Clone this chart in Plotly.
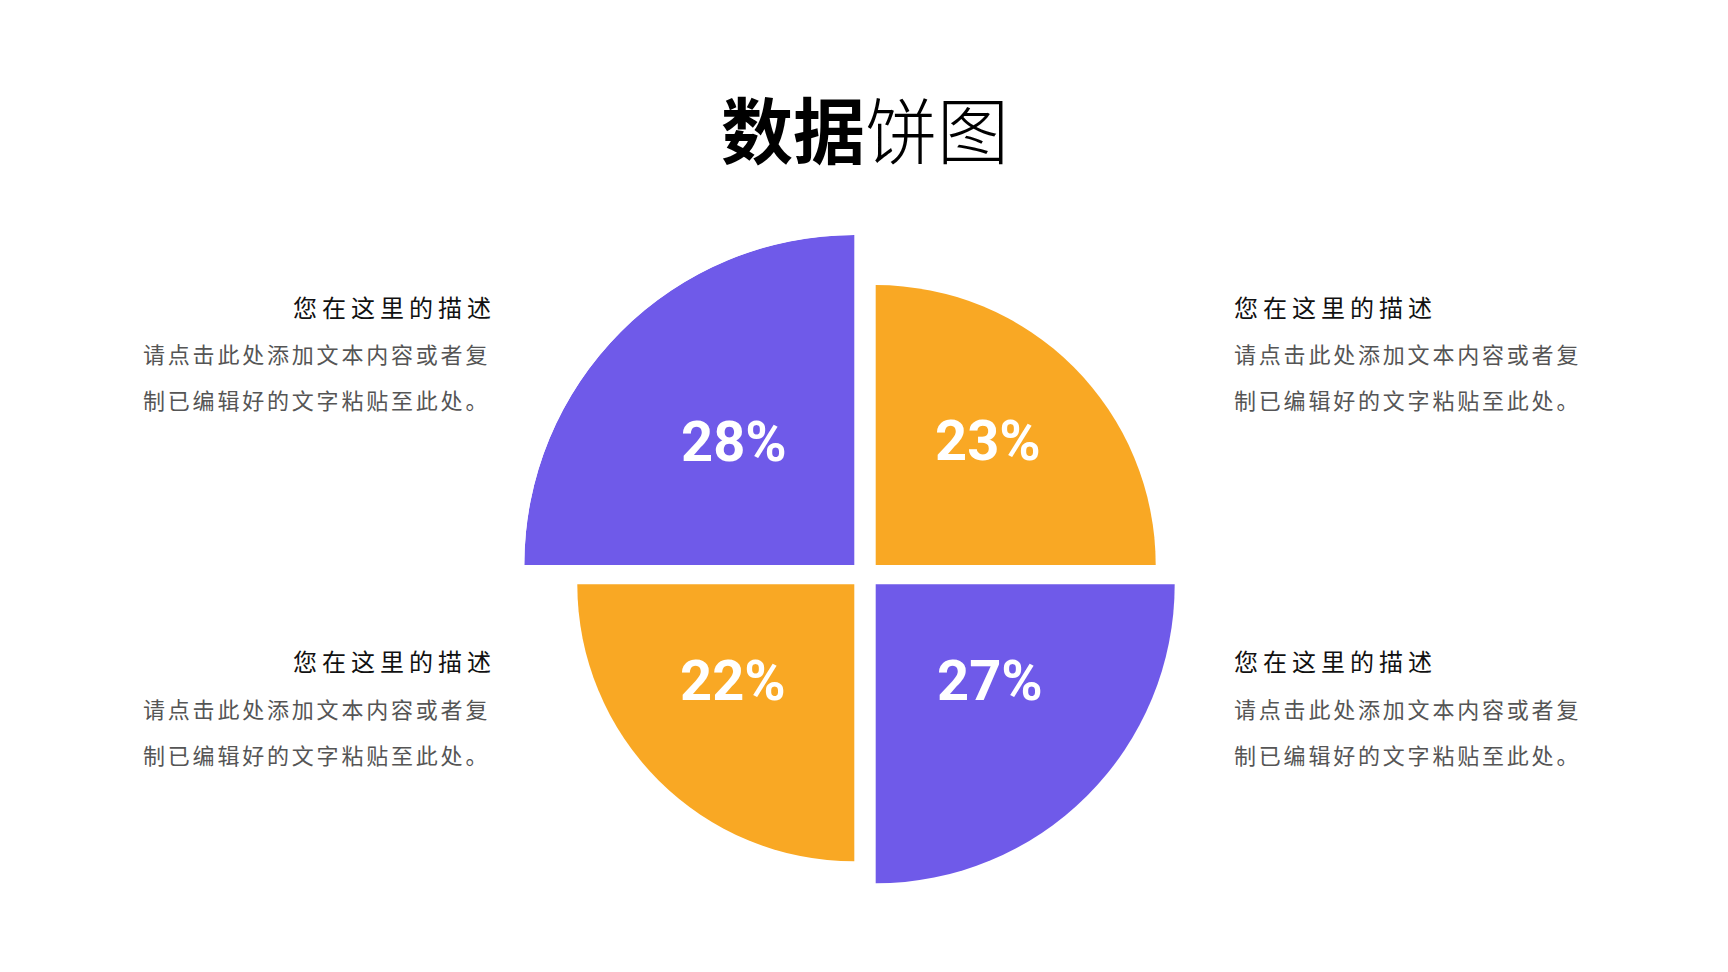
import plotly.graph_objects as go

# ---------------- data ----------------
quadrants = ["左上", "右上", "左下", "右下"]
percent_values = [28, 23, 22, 27]
percent_labels = ["28%", "23%", "22%", "27%"]
sector_radius = [330, 280, 277, 299]          # relative sector sizes
sector_theta = [135, 45, 225, 315]
sector_colors = ["#6F5AE9", "#F9A824", "#F9A824", "#6F5AE9"]

title_text = ["数据", "饼图"]
heading_text = "您在这里的描述"
para_line1 = "请点击此处添加文本内容或者复"
para_line2 = "制已编辑好的文字粘贴至此处。"

# ---------------- layout geometry (pixels) ----------------
W, H = 1728, 972
CX, CY = 865.0, 574.7
GX, GY = 21.4, 19.3
RMAX = max(sector_radius)
corners = [(CX - GX / 2, CY - GY / 2), (CX + GX / 2, CY - GY / 2),
           (CX - GX / 2, CY + GY / 2), (CX + GX / 2, CY + GY / 2)]
label_pos = [(734, 442), (988, 441), (733, 681), (990, 681)]

def px_x(x):
    return x / W

def px_y(y):
    return 1 - y / H

fig = go.Figure()
layout_polars = {}
for i in range(4):
    name = "polar" if i == 0 else f"polar{i+1}"
    cx, cy = corners[i]
    fig.add_trace(go.Barpolar(
        r=[sector_radius[i]], theta=[sector_theta[i]], width=[90],
        marker=dict(color=sector_colors[i], line=dict(width=0)),
        name=quadrants[i], subplot=name, showlegend=False,
        hovertext=[percent_labels[i]], hoverinfo="text",
    ))
    layout_polars[name] = dict(
        domain=dict(x=[px_x(cx - RMAX), px_x(cx + RMAX)],
                    y=[px_y(cy + RMAX), px_y(cy - RMAX)]),
        bgcolor="rgba(0,0,0,0)",
        radialaxis=dict(visible=False, range=[0, RMAX], showgrid=False),
        angularaxis=dict(visible=False, showgrid=False),
    )

annotations = []
# percent labels
for i in range(4):
    x, y = label_pos[i]
    annotations.append(dict(
        x=px_x(x), y=px_y(y), xref="paper", yref="paper",
        text=f"<b>{percent_labels[i]}</b>", showarrow=False,
        xanchor="center", yanchor="middle",
        font=dict(family="Roboto", size=56, color="white"),
    ))

# title
annotations.append(dict(
    x=px_x(865), y=px_y(126), xref="paper", yref="paper",
    text=f"<b>{title_text[0]}</b><span style='font-weight:300'>{title_text[1]}</span>",
    showarrow=False, xanchor="center", yanchor="middle",
    font=dict(family="Noto Sans CJK SC", size=72, color="#000000"),
))

CJK = "Noto Sans CJK SC"
blocks = [
    # heading x, anchor, para x, y heading, y line1, y line2
    (498, "right", 141, 306, 353, 399),
    (1232, "left", 1232, 306, 353, 399),
    (498, "right", 141, 660, 708, 754),
    (1232, "left", 1232, 660, 708, 754),
]
for hx, anc, px, yh, y1, y2 in blocks:
    annotations.append(dict(
        x=px_x(hx), y=px_y(yh), xref="paper", yref="paper",
        text=f"<span style='letter-spacing:5px'>{heading_text}</span>",
        showarrow=False, xanchor=anc, yanchor="middle",
        font=dict(family=CJK, size=24, color="#111111"),
    ))
    for yy, line in ((y1, para_line1), (y2, para_line2)):
        annotations.append(dict(
            x=px_x(px), y=px_y(yy), xref="paper", yref="paper",
            text=f"<span style='letter-spacing:2.8px'>{line}</span>",
            showarrow=False, xanchor="left", yanchor="middle",
            font=dict(family=CJK, size=22, color="#555555"),
        ))

fig.update_layout(
    width=W, height=H,
    margin=dict(l=0, r=0, t=0, b=0),
    paper_bgcolor="white", plot_bgcolor="white",
    showlegend=False,
    annotations=annotations,
    **layout_polars,
)

fig.write_html("out.html", config={"displayModeBar": False},
               post_script="document.body.style.margin='0';")
